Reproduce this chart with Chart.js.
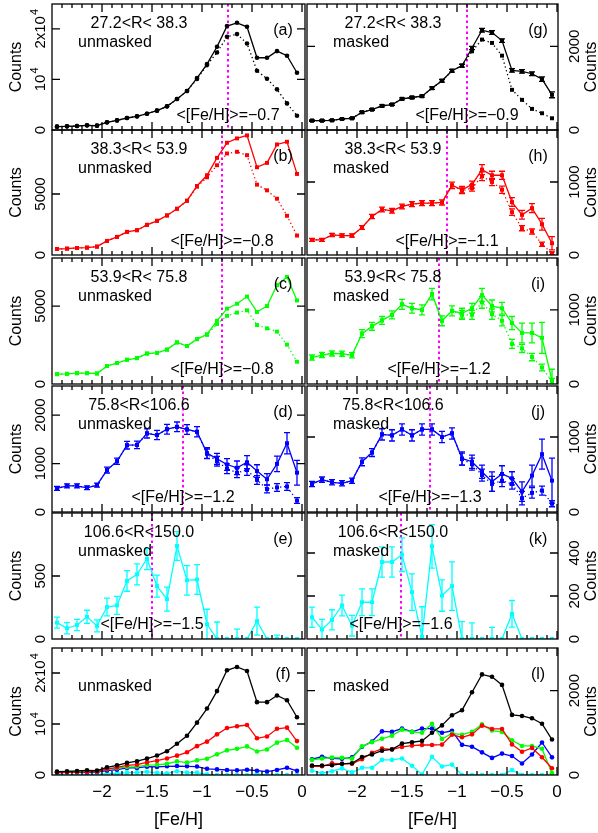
<!DOCTYPE html>
<html>
<head>
<meta charset="utf-8">
<script src="https://cdn.jsdelivr.net/npm/chart.js@4.4.0/dist/chart.umd.min.js"></script>
<style>
html, body { margin: 0; padding: 0; background: #fff; }
#wrap { position: relative; width: 598px; height: 833px; }
#wrap canvas { position: absolute; left: 0; top: 0; }
</style>
</head>
<body>
<div id="wrap"></div>
<script>
// [Fe/H] bin centres
const feh = [-2.45,-2.35,-2.25,-2.15,-2.05,-1.95,-1.85,-1.75,-1.65,-1.55,-1.45,-1.35,-1.25,-1.15,-1.05,-0.95,-0.85,-0.75,-0.65,-0.55,-0.45,-0.35,-0.25,-0.15,-0.05];

// unmasked counts (solid) and second (dotted) curve
const unmaskA  = [660,720,790,920,860,1510,1900,2370,2700,3220,3820,4670,6120,7700,10260,13030,16450,20530,21180,20400,14280,14280,15590,14670,11320];
const unmaskA2 = [660,720,790,920,860,1510,1900,2370,2700,3220,3820,4670,6120,7700,10100,12830,15330,18420,18950,17100,11710,10130,8030,5260,2830];
const unmaskB  = [494,522,577,604,687,1154,1483,1895,2033,2472,2802,3241,3791,4450,5659,6538,7966,9203,9560,9807,7197,7554,9065,9285,6648];
const unmaskB2 = [494,522,577,604,687,1154,1483,1895,2033,2472,2802,3241,3791,4450,5600,6373,7362,8324,8461,8186,5769,5302,4615,3214,1593];
const unmaskC  = [630,651,693,693,672,1155,1344,1554,1659,1953,1995,2205,2667,2436,2877,3192,4053,4830,5145,5607,4620,4998,6342,6867,5355];
const unmaskC2 = [630,651,693,693,672,1155,1344,1554,1659,1953,1995,2205,2667,2436,2877,3150,3843,4368,4578,4725,3780,3570,3360,2520,1428];
const unmaskD  = [486,540,540,500,554,865,1047,1378,1385,1622,1588,1709,1757,1703,1655,1216,1095,980,912,1027,845,676,993,1419,811];
const unmaskD2 = [486,540,540,500,554,865,1047,1378,1385,1622,1588,1709,1757,1703,1655,1200,1047,892,811,865,662,473,507,527,236];
const unmaskDerr  = [40,42,42,40,42,60,65,78,78,95,95,100,100,100,105,110,115,120,140,135,130,115,160,220,255];
const unmaskD2err = [0,0,0,0,0,0,0,0,0,0,0,0,0,0,0,100,100,100,100,110,90,80,80,80,60];
const unmaskE  = [130,85,111,176,104,254,267,461,513,635,420,316,738,466,472,117,0,0,0,0,142,0,0,0,0];
const unmaskEerr  = [43,45,45,52,48,70,71,82,84,84,87,95,114,117,118,119,135,0,78,0,111,0,31,0,0];

// masked counts
const maskG  = [224,224,232,264,280,424,488,576,608,744,776,808,1000,1176,1416,1536,1960,2384,2328,2136,1424,1400,1344,1216,840];
const maskG2 = [224,224,232,264,280,424,488,576,608,744,776,808,1000,1176,1416,1536,1880,2160,2080,1776,960,720,504,400,280];
const maskGerr = [15,15,15,15,15,20,20,22,22,25,25,25,28,30,33,35,40,45,45,42,40,40,45,55,70];
const maskH  = [206,206,275,266,266,376,527,624,605,665,697,711,711,720,954,894,963,1170,1092,1092,725,550,642,422,161];
const maskH2 = [206,206,275,266,266,376,527,624,605,665,697,711,711,720,954,880,917,1078,1000,894,587,367,321,147,23];
const maskHerr  = [20,20,22,22,22,25,30,32,32,33,34,35,35,35,45,45,48,69,55,55,60,60,62,80,92];
const maskH2err = [0,0,0,0,0,0,0,0,0,0,0,0,0,0,0,40,42,60,50,50,45,35,35,30,20];
const maskI  = [356,391,413,409,387,680,778,858,933,1075,1022,1000,1213,853,987,955,1022,1200,1053,1022,822,689,689,622,44];
const maskI2 = [356,391,413,409,387,680,778,858,933,1075,1022,1000,1213,853,987,933,933,1102,942,853,542,480,364,222,36];
const maskIerr  = [35,35,35,35,35,53,53,53,53,67,67,67,78,67,67,67,67,89,80,80,89,133,133,210,155];
const maskI2err = [0,0,0,0,0,0,0,0,0,0,0,0,0,0,0,60,60,80,70,70,60,55,50,45,40];
const maskJ  = [374,432,396,383,418,670,793,1035,1022,1101,1022,1101,1101,1000,1048,714,670,537,405,507,449,273,485,771,418];
const maskJ2 = [374,432,396,383,418,670,793,1035,1022,1101,1022,1101,1101,1000,1048,705,639,493,374,418,374,185,255,286,110];
const maskJerr  = [35,35,35,35,35,53,53,75,75,75,75,75,75,75,75,88,88,88,130,110,88,130,140,200,300];
const maskJ2err = [0,0,0,0,0,0,0,0,0,0,0,0,0,0,0,80,80,80,100,80,70,90,70,60,40];
const maskK  = [101,44,89,156,62,171,171,358,358,392,218,10,431,202,246,0,0,0,0,0,117,0,0,0,0];
const maskKerr = [47,47,47,48,48,62,62,70,70,78,85,140,101,73,113,81,75,0,54,0,62,0,0,0,0];

// labels
const rBins = ['27.2<R< 38.3','38.3<R< 53.9','53.9<R< 75.8','75.8<R<106.6','106.6<R<150.0'];
const meanUnmask = [-0.74,-0.80,-0.80,-1.19,-1.50];
const meanUnmaskTxt = ['−0.7','−0.8','−0.8','−1.2','−1.5'];
const meanMask = [-0.90,-1.10,-1.18,-1.27,-1.56];
const meanMaskTxt = ['−0.9','−1.1','−1.2','−1.3','−1.6'];
const xTickVals = [-2,-1.5,-1,-0.5,0];
const xTickTxt = ['−2','−1.5','−1','−0.5','0'];

const W = 598, H = 833;
const FONT = '"Liberation Sans", Arial, sans-serif';
const BLACK = '#000000', RED = '#ff0000', GREEN = '#00ff00', BLUE = '#0000ff', CYAN = '#00ffff';
const wrap = document.getElementById('wrap');

function drawRot(ctx, str, base, cy, size) {
  const parts = str.split('^');
  const main = parts[0], sup = parts[1];
  ctx.save();
  ctx.translate(base, cy);
  ctx.rotate(-Math.PI / 2);
  ctx.textAlign = 'left';
  ctx.textBaseline = 'alphabetic';
  ctx.fillStyle = '#000';
  ctx.font = size + 'px ' + FONT;
  const w1 = ctx.measureText(main).width;
  const s2 = Math.round(size * 0.7);
  let w2 = 0;
  if (sup) { ctx.font = s2 + 'px ' + FONT; w2 = ctx.measureText(sup).width + 1; }
  const x0 = -(w1 + w2) / 2;
  ctx.font = size + 'px ' + FONT;
  ctx.fillText(main, x0, 0);
  if (sup) {
    ctx.font = s2 + 'px ' + FONT;
    ctx.fillText(sup, x0 + w1 + 1, -size * 0.45);
  }
  ctx.restore();
}

function panelPlugin(p) {
  return {
    id: 'panel',
    beforeDatasetsDraw(chart) {
      if (p.mean == null) return;
      const { ctx, chartArea: a, scales: { x } } = chart;
      const px = x.getPixelForValue(p.mean);
      ctx.save();
      ctx.strokeStyle = '#ff00ff';
      ctx.lineWidth = 2;
      ctx.setLineDash([2.5, 3]);
      ctx.beginPath();
      ctx.moveTo(px, a.top);
      ctx.lineTo(px, a.bottom);
      ctx.stroke();
      ctx.restore();
    },
    afterDatasetsDraw(chart) {
      const { ctx, chartArea: a, scales: { x, y } } = chart;
      // error bars
      ctx.save();
      ctx.beginPath();
      ctx.rect(a.left, a.top, a.right - a.left, a.bottom - a.top);
      ctx.clip();
      chart.data.datasets.forEach(ds => {
        if (!ds.errors) return;
        ctx.strokeStyle = ds.borderColor;
        ctx.lineWidth = 1.3;
        ctx.setLineDash([]);
        ds.errors.forEach((e, i) => {
          if (!e) return;
          const pt = ds.data[i];
          const px = x.getPixelForValue(pt.x);
          const y1 = y.getPixelForValue(pt.y - e), y2 = y.getPixelForValue(pt.y + e);
          ctx.beginPath();
          ctx.moveTo(px, y1); ctx.lineTo(px, y2);
          ctx.moveTo(px - 3, y1); ctx.lineTo(px + 3, y1);
          ctx.moveTo(px - 3, y2); ctx.lineTo(px + 3, y2);
          ctx.stroke();
        });
      });
      ctx.restore();

      // frame and inward ticks
      ctx.save();
      ctx.strokeStyle = '#000';
      ctx.lineWidth = 1.3;
      ctx.setLineDash([]);
      ctx.strokeRect(a.left, a.top, a.right - a.left, a.bottom - a.top);
      ctx.beginPath();
      for (let k = 1; k <= 25; k++) {
        const v = -2.5 + k * 0.1;
        const px = x.getPixelForValue(v);
        const len = k % 5 === 0 ? 8 : 4;
        ctx.moveTo(px, a.bottom); ctx.lineTo(px, a.bottom - len);
        ctx.moveTo(px, a.top); ctx.lineTo(px, a.top + len);
      }
      p.yticks.forEach(v => {
        if (v === 0) return;
        const py = y.getPixelForValue(v);
        ctx.moveTo(a.left, py); ctx.lineTo(a.left + 8, py);
        ctx.moveTo(a.right, py); ctx.lineTo(a.right - 8, py);
      });
      ctx.stroke();
      ctx.restore();

      // y tick labels and axis title
      const right = p.side === 'right';
      p.yticks.forEach((v, i) => {
        drawRot(ctx, p.ylabels[i], right ? 579 : 45, y.getPixelForValue(v), 15);
      });
      drawRot(ctx, 'Counts', right ? 596 : 21, (a.top + a.bottom) / 2, 16);

      // texts inside the panel
      ctx.save();
      ctx.fillStyle = '#000';
      ctx.font = '16px ' + FONT;
      ctx.textBaseline = 'alphabetic';
      if (p.bin) {
        ctx.textAlign = 'center';
        ctx.fillText(p.bin, right ? 393 : 139, a.top + 24);
      }
      ctx.textAlign = 'left';
      ctx.fillText(p.kind, right ? 333 : 78, a.top + 43);
      ctx.textAlign = 'center';
      ctx.fillText(p.tag, right ? 538 : 283, a.top + 31);
      if (p.mean != null) {
        ctx.fillText('<[Fe/H]>=' + p.meanTxt, x.getPixelForValue(p.mean), a.top + 116);
      }
      if (p.bottom) {
        ctx.font = '17px ' + FONT;
        xTickVals.forEach((v, i) => {
          ctx.fillText(xTickTxt[i], x.getPixelForValue(v), 797);
        });
        ctx.font = '18px ' + FONT;
        ctx.fillText('[Fe/H]', (a.left + a.right) / 2, 825);
      }
      ctx.restore();
    }
  };
}

function makePanel(p) {
  const cv = document.createElement('canvas');
  cv.width = W;
  cv.height = H;
  wrap.appendChild(cv);
  const datasets = p.series.map(s => ({
    data: feh.map((fx, i) => ({ x: fx, y: s.y[i] })),
    errors: s.err || null,
    borderColor: s.color,
    backgroundColor: s.color,
    borderWidth: 1.3,
    borderDash: s.dotted ? [1.3, 2.7] : [],
    pointStyle: p.marker,
    pointRadius: p.marker === 'rect' ? 2.8 : 2.3,
    pointBorderWidth: 0,
    tension: 0
  }));
  new Chart(cv, {
    type: 'line',
    data: { datasets },
    options: {
      responsive: false,
      animation: false,
      devicePixelRatio: 1,
      events: [],
      layout: { padding: { left: p.box[0], top: p.box[1], right: W - p.box[2], bottom: H - p.box[3] } },
      plugins: { legend: { display: false }, tooltip: { enabled: false } },
      scales: {
        x: { type: 'linear', display: false, min: -2.5, max: p.side === 'right' ? 0.01 : 0.03 },
        y: { type: 'linear', display: false, min: 0, max: p.ymax }
      }
    },
    plugins: [panelPlugin(p)]
  });
}

const rowsY = [[4, 130], [130, 255], [258, 384], [386, 512], [513, 639], [648, 775]];
const leftX = [52, 305], rightX = [307, 558];
const boxL = r => [leftX[0], rowsY[r][0], leftX[1], rowsY[r][1]];
const boxR = r => [rightX[0], rowsY[r][0], rightX[1], rowsY[r][1]];

const panels = [
  { side: 'left', box: boxL(0), ymax: 24900, yticks: [0, 10000, 20000], ylabels: ['0', '10^4', '2x10^4'], marker: 'circle',
    series: [{ y: unmaskA2, color: BLACK, dotted: true }, { y: unmaskA, color: BLACK }],
    bin: rBins[0], kind: 'unmasked', tag: '(a)', mean: meanUnmask[0], meanTxt: meanUnmaskTxt[0] },
  { side: 'left', box: boxL(1), ymax: 10250, yticks: [0, 5000], ylabels: ['0', '5000'], marker: 'rect',
    series: [{ y: unmaskB2, color: RED, dotted: true }, { y: unmaskB, color: RED }],
    bin: rBins[1], kind: 'unmasked', tag: '(b)', mean: meanUnmask[1], meanTxt: meanUnmaskTxt[1] },
  { side: 'left', box: boxL(2), ymax: 8080, yticks: [0, 5000], ylabels: ['0', '5000'], marker: 'rect',
    series: [{ y: unmaskC2, color: GREEN, dotted: true }, { y: unmaskC, color: GREEN }],
    bin: rBins[2], kind: 'unmasked', tag: '(c)', mean: meanUnmask[2], meanTxt: meanUnmaskTxt[2] },
  { side: 'left', box: boxL(3), ymax: 2600, yticks: [0, 1000, 2000], ylabels: ['0', '1000', '2000'], marker: 'rect',
    series: [{ y: unmaskD2, err: unmaskD2err, color: BLUE, dotted: true }, { y: unmaskD, err: unmaskDerr, color: BLUE }],
    bin: rBins[3], kind: 'unmasked', tag: '(d)', mean: meanUnmask[3], meanTxt: meanUnmaskTxt[3] },
  { side: 'left', box: boxL(4), ymax: 1000, yticks: [0, 500], ylabels: ['0', '500'], marker: 'rect',
    series: [{ y: unmaskE, err: unmaskEerr, color: CYAN }],
    bin: rBins[4], kind: 'unmasked', tag: '(e)', mean: meanUnmask[4], meanTxt: meanUnmaskTxt[4] },
  { side: 'left', box: boxL(5), ymax: 24900, yticks: [0, 10000, 20000], ylabels: ['0', '10^4', '2x10^4'], marker: 'circle',
    series: [{ y: unmaskA, color: BLACK }, { y: unmaskB, color: RED }, { y: unmaskC, color: GREEN }, { y: unmaskD, color: BLUE }, { y: unmaskE, color: CYAN }],
    kind: 'unmasked', tag: '(f)', bottom: true },

  { side: 'right', box: boxR(0), ymax: 3010, yticks: [0, 2000], ylabels: ['0', '2000'], marker: 'rect',
    series: [{ y: maskG2, color: BLACK, dotted: true }, { y: maskG, err: maskGerr, color: BLACK }],
    bin: rBins[0], kind: 'masked', tag: '(g)', mean: meanMask[0], meanTxt: meanMaskTxt[0] },
  { side: 'right', box: boxR(1), ymax: 1712, yticks: [0, 1000], ylabels: ['0', '1000'], marker: 'rect',
    series: [{ y: maskH2, err: maskH2err, color: RED, dotted: true }, { y: maskH, err: maskHerr, color: RED }],
    bin: rBins[1], kind: 'masked', tag: '(h)', mean: meanMask[1], meanTxt: meanMaskTxt[1] },
  { side: 'right', box: boxR(2), ymax: 1700, yticks: [0, 1000], ylabels: ['0', '1000'], marker: 'rect',
    series: [{ y: maskI2, err: maskI2err, color: GREEN, dotted: true }, { y: maskI, err: maskIerr, color: GREEN }],
    bin: rBins[2], kind: 'masked', tag: '(i)', mean: meanMask[2], meanTxt: meanMaskTxt[2] },
  { side: 'right', box: boxR(3), ymax: 1680, yticks: [0, 1000], ylabels: ['0', '1000'], marker: 'rect',
    series: [{ y: maskJ2, err: maskJ2err, color: BLUE, dotted: true }, { y: maskJ, err: maskJerr, color: BLUE }],
    bin: rBins[3], kind: 'masked', tag: '(j)', mean: meanMask[3], meanTxt: meanMaskTxt[3] },
  { side: 'right', box: boxR(4), ymax: 586, yticks: [0, 200, 400], ylabels: ['0', '200', '400'], marker: 'rect',
    series: [{ y: maskK, err: maskKerr, color: CYAN }],
    bin: rBins[4], kind: 'masked', tag: '(k)', mean: meanMask[4], meanTxt: meanMaskTxt[4] },
  { side: 'right', box: boxR(5), ymax: 3010, yticks: [0, 2000], ylabels: ['0', '2000'], marker: 'circle',
    series: [{ y: maskG, color: BLACK }, { y: maskH, color: RED }, { y: maskI, color: GREEN }, { y: maskJ, color: BLUE }, { y: maskK, color: CYAN }],
    kind: 'masked', tag: '(l)', bottom: true }
];

panels.forEach(makePanel);
</script>
</body>
</html>
